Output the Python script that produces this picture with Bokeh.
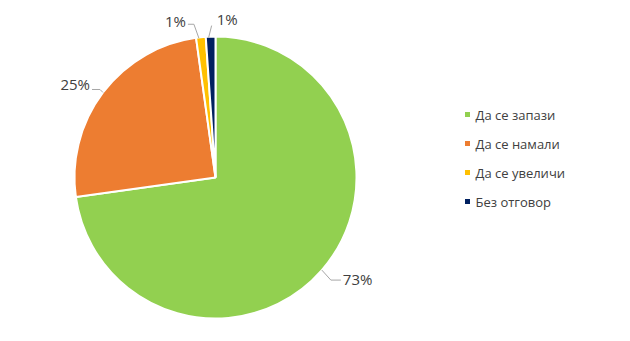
import math
from bokeh.plotting import figure
from bokeh.models import Range1d
from bokeh.core.properties import value
from bokeh.embed import file_html
from bokeh.resources import INLINE

# ---- data ----
categories = ["Да се запази", "Да се намали", "Да се увеличи", "Без отговор"]
values = [72.8, 25.0, 1.1, 1.1]
pct_labels = ["73%", "25%", "1%", "1%"]
colors = ["#92D050", "#ED7D31", "#FFC000", "#002060"]

# ---- layout ----
W, H = 630, 341
CX, CY = 215, 177          # pixel centre (y down)
R = 141
FONT = "Open Sans"
TXT = "#404040"

def Y(py):
    return H - py

p = figure(width=W, height=H, output_backend="svg", toolbar_location=None,
           x_range=Range1d(0, W), y_range=Range1d(0, H), min_border=0)
p.axis.visible = False
p.grid.visible = False
p.outline_line_color = None
p.background_fill_color = "white"

total = sum(values)
cum = 0.0
starts, ends, mids = [], [], []
for v in values:
    a0 = cum / total
    cum += v
    a1 = cum / total
    starts.append(math.pi / 2 - 2 * math.pi * a0)
    ends.append(math.pi / 2 - 2 * math.pi * a1)
    mids.append(2 * math.pi * (a0 + a1) / 2)   # clockwise from top

p.wedge(x=[CX] * len(values), y=[Y(CY)] * len(values), radius=R,
        start_angle=starts, end_angle=ends, direction="clock",
        fill_color=colors, line_color="white", line_width=2)

# leader line offsets relative to slice edge point (pixels, y down)
leader_off = [
    [(0, 0), (9, 10), (19, 10)],
    [(0, 0), (-3, -3), (-11, -3)],
    [(-2, 1), (-7, -13), (-13, -13)],
    [(-2, 1), (1, -11)],
]
label_off = [(21, 9), (-13, -8), (-15, -16), (6, -18)]
label_align = ["left", "right", "right", "left"]

xs, ys = [], []
lx, ly = [], []
for i, th in enumerate(mids):
    ex = CX + R * math.sin(th)
    ey = CY - R * math.cos(th)
    xs.append([ex + dx for dx, dy in leader_off[i]])
    ys.append([Y(ey + dy) for dx, dy in leader_off[i]])
    lx.append(ex + label_off[i][0])
    ly.append(Y(ey + label_off[i][1]))

p.multi_line(xs=xs, ys=ys, line_color="#A6A6A6", line_width=1)
for i in range(len(values)):
    p.text(x=[lx[i]], y=[ly[i]], text=[pct_labels[i]], text_font=value(FONT),
           text_font_size="15px", text_color=TXT, text_align=label_align[i],
           text_baseline="middle")

# legend
LX, LY0, LDY = 467, 114, 29
leg_x = [LX] * len(categories)
leg_y = [Y(LY0 + i * LDY) for i in range(len(categories))]
p.scatter(x=leg_x, y=leg_y, marker="square", size=5, fill_color=colors, line_color=None)
p.text(x=[LX + 8] * len(categories), y=leg_y, text=categories, text_font=value(FONT),
       text_font_size="13px", text_color=TXT, text_align="left", text_baseline="middle")

open("out.html", "w").write(file_html(p, INLINE))
